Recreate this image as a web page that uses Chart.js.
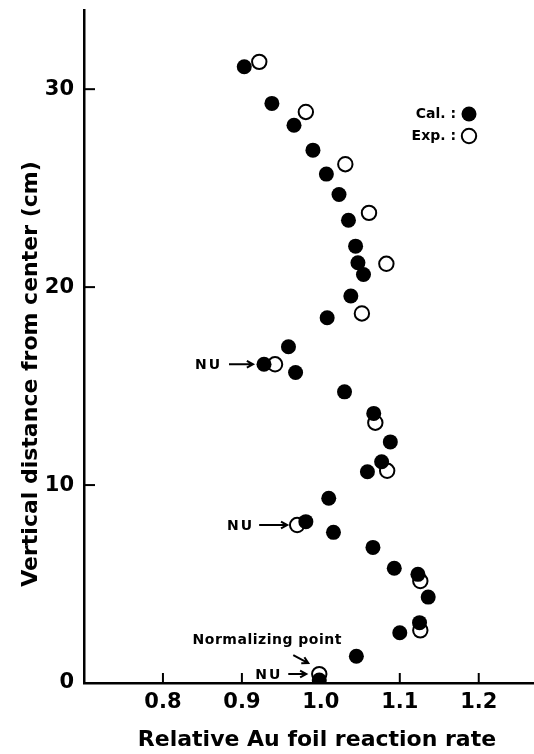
<!DOCTYPE html>
<html>
<head>
<meta charset="utf-8">
<script src="https://cdn.jsdelivr.net/npm/chart.js@4"></script>
<style>
html,body{margin:0;padding:0;background:#fff;}
canvas{display:block;}
</style>
</head>
<body>
<canvas id="c" width="534" height="754"></canvas>
<script>
// ---- data ----
const calX = [0.903,0.938,0.966,0.990,1.007,1.023,1.035,1.044,1.047,1.054,1.038,1.008,0.959,0.928,0.968,1.030,1.067,1.088,1.077,1.059,1.010,0.981,1.016,1.066,1.093,1.123,1.136,1.125,1.100,1.045,0.998];
const calY = [31.13,29.28,28.18,26.92,25.71,24.68,23.38,22.07,21.23,20.64,19.55,18.45,16.99,16.10,15.69,14.71,13.62,12.18,11.18,10.67,9.33,8.15,7.61,6.85,5.80,5.49,4.34,3.05,2.54,1.35,0.15];
const expX = [0.922,0.981,1.031,1.061,1.083,1.052,0.942,1.069,1.084,0.970,1.126,1.126,0.998];
const expY = [31.38,28.85,26.21,23.75,21.18,18.67,16.10,13.15,10.72,7.98,5.15,2.66,0.45];
const xTicks = [0.8,0.9,1.0,1.1,1.2];
const yTicks = [0,10,20,30];
const seriesNames = ['Cal. :','Exp. :'];
const xTitle = 'Relative Au foil reaction rate';
const yTitle = 'Vertical distance from center (cm)';
// NU annotations: which series / point they point to
const nuSeries = [0,1,1];
const nuIndex = [13,9,12];
const nuText = 'NU';
const normText = 'Normalizing point';

const FONT = '"DejaVu Sans", sans-serif';

function arrow(ctx, x1, y1, x2, y2, head) {
  ctx.beginPath();
  ctx.moveTo(x1, y1);
  ctx.lineTo(x2, y2);
  const a = Math.atan2(y2 - y1, x2 - x1);
  ctx.moveTo(x2 - head * Math.cos(a - 0.5), y2 - head * Math.sin(a - 0.5));
  ctx.lineTo(x2, y2);
  ctx.lineTo(x2 - head * Math.cos(a + 0.5), y2 - head * Math.sin(a + 0.5));
  ctx.stroke();
}

const decor = {
  id: 'decor',
  beforeDatasetsDraw(chart) {
    const {ctx, scales: {x, y}} = chart;
    ctx.save();
    ctx.strokeStyle = '#000';
    ctx.lineWidth = 2;
    const y0 = y.getPixelForValue(0);
    const x0 = x.getPixelForValue(x.min);
    xTicks.forEach(v => {
      const px = x.getPixelForValue(v);
      ctx.beginPath(); ctx.moveTo(px, y0); ctx.lineTo(px, y0 - 10); ctx.stroke();
    });
    yTicks.forEach(v => {
      if (v === 0) return;
      const py = y.getPixelForValue(v);
      ctx.beginPath(); ctx.moveTo(x0, py); ctx.lineTo(x0 + 11, py); ctx.stroke();
    });
    ctx.restore();
  },
  afterDraw(chart) {
    const {ctx, chartArea, scales: {x, y}} = chart;
    ctx.save();
    ctx.fillStyle = '#000';
    ctx.strokeStyle = '#000';
    // axis titles
    ctx.font = 'bold 22px ' + FONT;
    ctx.textAlign = 'center';
    ctx.textBaseline = 'middle';
    ctx.fillText(xTitle, (chartArea.left + chartArea.right) / 2 + 8, 740);
    ctx.save();
    ctx.translate(31, 374);
    ctx.rotate(-Math.PI / 2);
    ctx.fillText(yTitle, 0, 0);
    ctx.restore();

    // legend
    ctx.font = 'bold 14px ' + FONT;
    ctx.textAlign = 'right';
    ctx.fillText(seriesNames[0], 456, 114);
    ctx.fillText(seriesNames[1], 456, 136);
    ctx.beginPath(); ctx.arc(469, 114, 7.5, 0, Math.PI * 2); ctx.fill();
    ctx.lineWidth = 2;
    ctx.beginPath(); ctx.arc(469, 136, 7.2, 0, Math.PI * 2);
    ctx.fillStyle = '#fff'; ctx.fill(); ctx.stroke();
    ctx.fillStyle = '#000';

    // NU annotations
    const sx = [calX, expX], sy = [calY, expY];
    const tipOff = [11, 10, 13];
    const arrLen = [24, 28, 18];
    const gap = [9, 7, 8];
    ctx.font = 'bold 14px ' + FONT;
    try { ctx.letterSpacing = '2px'; } catch (e) {}
    ctx.textAlign = 'right';
    ctx.textBaseline = 'middle';
    ctx.lineWidth = 2;
    nuSeries.forEach((s, k) => {
      const px = x.getPixelForValue(sx[s][nuIndex[k]]);
      const py = y.getPixelForValue(sy[s][nuIndex[k]]);
      const tip = px - tipOff[k];
      const start = tip - arrLen[k];
      arrow(ctx, start, py, tip, py, 7);
      ctx.fillText(nuText, start - gap[k] + 2, py + 1);
    });
    // normalizing point
    const npx = x.getPixelForValue(expX[12]);
    const npy = y.getPixelForValue(expY[12]);
    try { ctx.letterSpacing = '0.5px'; } catch (e) {}
    ctx.textAlign = 'center';
    ctx.fillText(normText, npx - 52, npy - 34);
    arrow(ctx, npx - 26, npy - 19, npx - 11, npy - 11, 7);
    ctx.restore();
  }
};

const tickFont = {family: FONT, weight: 'bold', size: 21};

new Chart(document.getElementById('c'), {
  type: 'scatter',
  data: {
    datasets: [
      {
        label: seriesNames[0],
        data: calX.map((v, i) => ({x: v, y: calY[i]})),
        pointRadius: 7.5,
        pointBackgroundColor: '#000',
        pointBorderColor: '#000',
        pointBorderWidth: 0,
        showLine: false
      },
      {
        label: seriesNames[1],
        data: expX.map((v, i) => ({x: v, y: expY[i]})),
        pointRadius: 7.2,
        pointBackgroundColor: '#fff',
        pointBorderColor: '#000',
        pointBorderWidth: 2,
        showLine: false
      }
    ]
  },
  options: {
    responsive: false,
    animation: false,
    devicePixelRatio: 1,
    layout: {autoPadding: false, padding: {top: 10, right: 0, left: 0, bottom: 0}},
    plugins: {legend: {display: false}, tooltip: {enabled: false}},
    scales: {
      x: {
        type: 'linear', min: 0.7, max: 1.27,
        afterBuildTicks: s => { s.ticks = xTicks.map(v => ({value: v})); },
        ticks: {font: tickFont, color: '#000', padding: 7, maxRotation: 0, autoSkip: false,
                callback: v => Number(v).toFixed(1)},
        grid: {display: false, drawTicks: false},
        border: {display: true, color: '#000', width: 2.5},
        afterFit: s => { s.height = 71; s.paddingLeft = 0; s.paddingRight = 0; s.paddingTop = 0; s.paddingBottom = 0; }
      },
      y: {
        type: 'linear', min: 0, max: 34,
        afterBuildTicks: s => { s.ticks = yTicks.map(v => ({value: v})); },
        ticks: {font: tickFont, color: '#000', padding: 10, autoSkip: false,
                callback: v => String(v)},
        grid: {display: false, drawTicks: false},
        border: {display: true, color: '#000', width: 2.5},
        afterFit: s => { s.width = 84; s.paddingLeft = 0; s.paddingRight = 0; s.paddingTop = 0; s.paddingBottom = 0; }
      }
    }
  },
  plugins: [decor]
});
</script>
</body>
</html>
